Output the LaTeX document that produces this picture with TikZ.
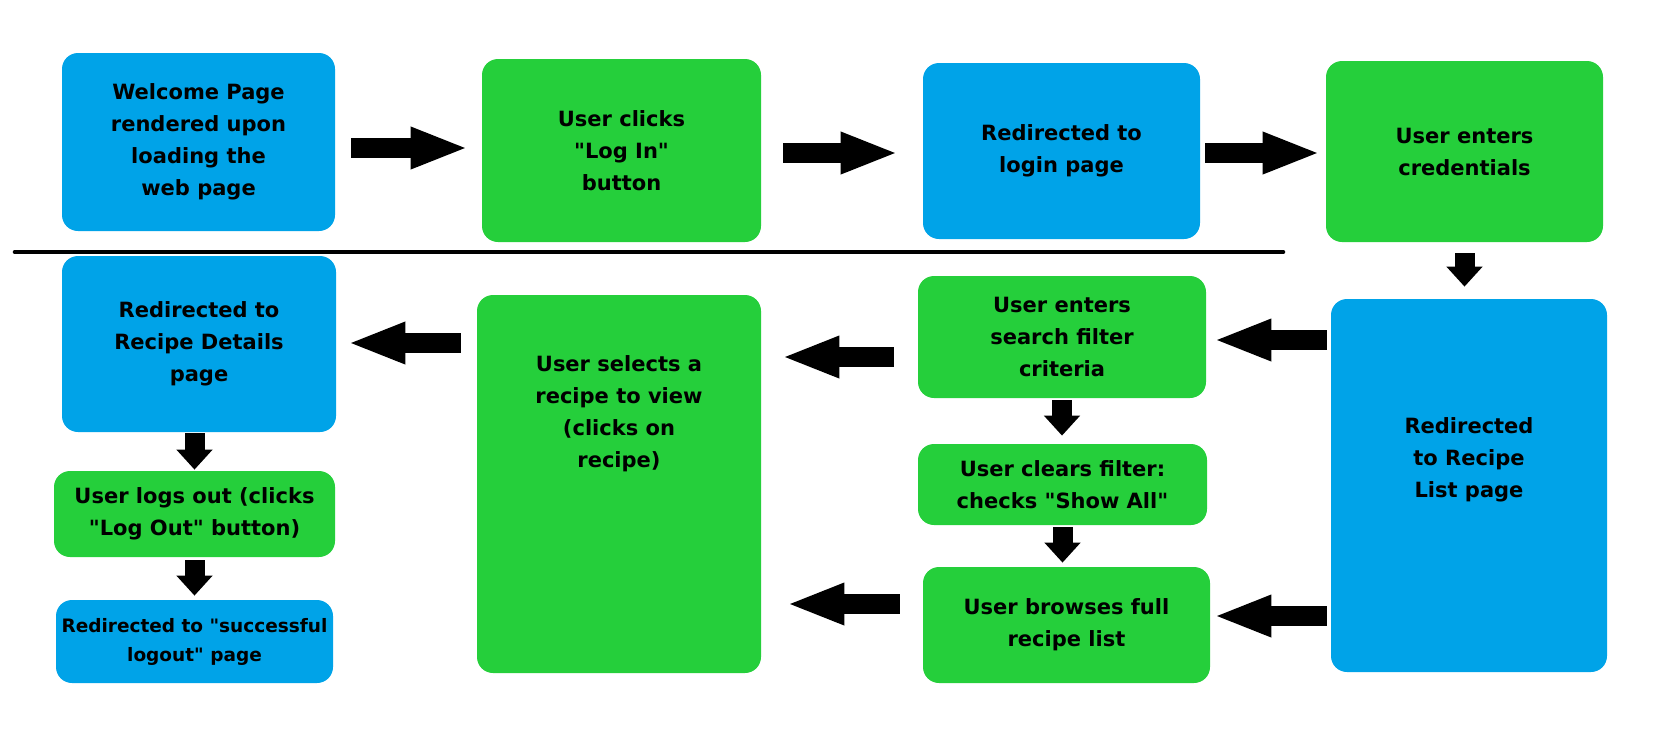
\documentclass[tikz,border=0pt]{standalone}
\usepackage{fontspec}
\newfontfamily\boxfont{DejaVu Sans}
\usetikzlibrary{arrows.meta,positioning}
\definecolor{pageblue}{HTML}{00A3E8}
\definecolor{actiongreen}{HTML}{25CF3B}
\begin{document}
\begin{tikzpicture}[
    x=0.5pt, y=-0.5pt,
    every node/.style={font=\boxfont\bfseries\fontsize{10.5}{16}\selectfont, align=center, inner sep=0pt},
    pagebox/.style={fill=pageblue, rounded corners=8pt},
    actionbox/.style={fill=actiongreen, rounded corners=8pt},
    harrow/.style={line width=10pt, -{Triangle[length=29pt,width=19pt]}},
    varrow/.style={line width=10pt, -{Triangle[length=10pt,width=17.5pt]}}
]
    \useasboundingbox (0,0) rectangle (1676,736);
    % Top row
    \node[pagebox, minimum width=136.5pt, minimum height=89pt] (welcome) at (198.5,142)
        {Welcome Page\\rendered upon\\loading the\\web page};
    \node[actionbox, minimum width=139.5pt, minimum height=91.5pt] (clicks) at (621.5,150.5)
        {User clicks\\"Log In"\\button};
    \node[pagebox, minimum width=138.5pt, minimum height=88pt] (redir) at (1061.5,151)
        {Redirected to\\login page};
    \node[actionbox, minimum width=138.5pt, minimum height=90.5pt] (cred) at (1464.5,151.5)
        {User enters\\credentials};
    % Separator
    \draw[line width=2.3pt, line cap=round] (15,252) -- (1283,252);
    % Bottom row, right column
    \node[pagebox, minimum width=138pt, minimum height=186.5pt] (list) at (1469,485.5) {};
    \node[below=59.5pt of list.north] (listtext) {Redirected\\to Recipe\\List page};
    % Filter column
    \node[actionbox, minimum width=144pt, minimum height=61pt] (search) at (1062,337)
        {User enters\\search filter\\criteria};
    \node[actionbox, minimum width=144.5pt, minimum height=40.5pt] (clears) at (1062.5,484.5)
        {User clears filter:\\checks "Show All"};
    \node[actionbox, minimum width=143.5pt, minimum height=58pt] (browses) at (1066.5,625)
        {User browses full\\recipe list};
    % Selection
    \node[actionbox, minimum width=142pt, minimum height=189pt] (selects) at (619,484) {};
    \node[below=30.5pt of selects.north] (selectstext)
        {User selects a\\recipe to view\\(clicks on\\recipe)};
    % Left column
    \node[pagebox, minimum width=137pt, minimum height=88pt] (details) at (199,344)
        {Redirected to\\Recipe Details\\page};
    \node[actionbox, minimum width=140.5pt, minimum height=43pt] (logs) at (194.5,514)
        {User logs out (clicks\\"Log Out" button)};
    \node[pagebox, minimum width=138.5pt, minimum height=41.5pt,
        font=\boxfont\bfseries\fontsize{9.25}{14.5}\selectfont] (logout) at (194.5,641.5)
        {Redirected to "successful\\logout" page};
    % Arrows
    \draw[harrow, shorten <=8pt, shorten >=6.5pt] (welcome.east |- 0,148) -- (clicks.west |- 0,148);
    \draw[harrow, shorten <=11pt, shorten >=12pt] (clicks.east |- 0,153) -- (redir.west |- 0,153);
    \draw[harrow, shorten <=2.5pt, shorten >=2.5pt] (redir.east |- 0,153) -- (cred.west |- 0,153);
    \draw[varrow, shorten <=5.5pt, shorten >=6pt] (cred.south) -- (cred.south |- list.north);
    \draw[harrow, shorten <=2pt, shorten >=3.5pt] (list.west |- 0,340) -- (search.east |- 0,340);
    \draw[harrow, shorten <=2pt, shorten >=1.5pt] (list.west |- 0,616) -- (browses.east |- 0,616);
    \draw[varrow, shorten <=1pt, shorten >=4pt] (search.south) -- (search.south |- clears.north);
    \draw[varrow, shorten <=1pt, shorten >=2pt] (clears.south) -- (clears.south |- browses.north);
    \draw[harrow, shorten <=12pt, shorten >=10pt] (search.west |- 0,357) -- (selects.east |- 0,357);
    \draw[harrow, shorten <=11.5pt, shorten >=12.5pt] (browses.west |- 0,604) -- (selects.east |- 0,604);
    \draw[harrow, shorten <=8pt, shorten >=5.5pt] (selects.west |- 0,343) -- (details.east |- 0,343);
    \draw[varrow, shorten <=0.5pt, shorten >=0.5pt] (logs.north |- details.south) -- (logs.north);
    \draw[varrow, shorten <=1.5pt, shorten >=2pt] (logs.south) -- (logout.north);
\end{tikzpicture}
\end{document}
